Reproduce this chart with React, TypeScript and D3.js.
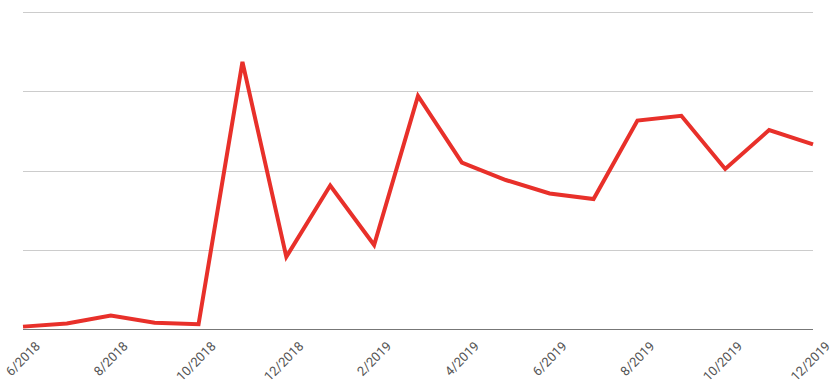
import React from "react";
import * as d3 from "d3";

const months = [
  "6/2018", "7/2018", "8/2018", "9/2018", "10/2018", "11/2018", "12/2018",
  "1/2019", "2/2019", "3/2019", "4/2019", "5/2019", "6/2019", "7/2019",
  "8/2019", "9/2019", "10/2019", "11/2019", "12/2019",
];
const values = [
  0.03, 0.07, 0.17, 0.08, 0.06, 3.37, 0.91, 1.81, 1.06, 2.94, 2.1, 1.88,
  1.71, 1.64, 2.63, 2.69, 2.02, 2.51, 2.33,
];
const tickLabels = [
  "6/2018", "8/2018", "10/2018", "12/2018", "2/2019", "4/2019", "6/2019",
  "8/2019", "10/2019", "12/2019",
];
const yTicks = [0, 1, 2, 3, 4];

const W = 840;
const H = 383;
const left = 23;
const right = 813;
const top = 12;
const bottom = 329;

export default function App() {
  const x = d3.scalePoint<string>().domain(months).range([left, right]);
  const y = d3.scaleLinear().domain([0, 4]).range([bottom, top]);
  const line = d3
    .line<number>()
    .x((_, i) => x(months[i]) as number)
    .y((d) => y(d));

  return (
    <svg
      width={W}
      height={H}
      style={{ position: "fixed", left: 0, top: 0 }}
      fontFamily="Roboto, Arial, sans-serif"
    >
      <rect width={W} height={H} fill="#fff" />
      {yTicks.slice(1).map((t) => (
        <line
          key={t}
          x1={left}
          x2={right}
          y1={Math.round(y(t)) + 0.5}
          y2={Math.round(y(t)) + 0.5}
          stroke="#cccccc"
          strokeWidth={1}
        />
      ))}
      <line
        x1={left}
        x2={right}
        y1={Math.round(y(0)) + 0.5}
        y2={Math.round(y(0)) + 0.5}
        stroke="#777"
        strokeWidth={1}
      />
      <path
        d={line(values) || ""}
        fill="none"
        stroke="#e8302a"
        strokeWidth={4}
        strokeLinejoin="miter"
      />
      {tickLabels.map((t) => {
        const tx = (x(t) as number) + 18;
        const ty = 347;
        return (
          <text
            key={t}
            x={tx}
            y={ty}
            textAnchor="end"
            fontSize={13}
            fill="#555"
            transform={`rotate(-45 ${tx} ${ty})`}
          >
            {t}
          </text>
        );
      })}
    </svg>
  );
}
